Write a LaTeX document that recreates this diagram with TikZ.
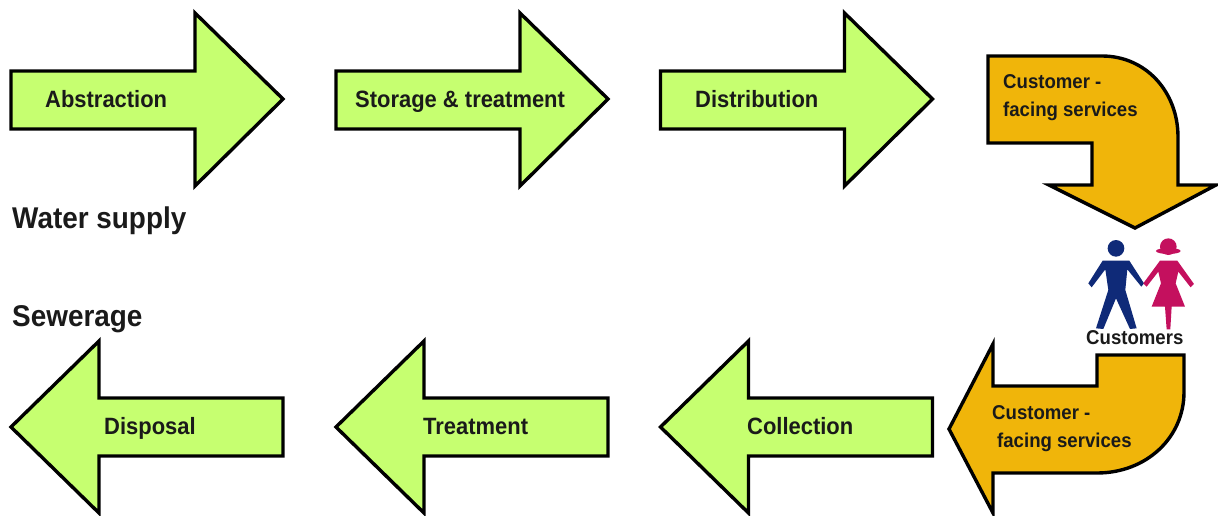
\documentclass[tikz,border=0pt]{standalone}
\usepackage{fontspec}
\setmainfont{Liberation Sans}
\newfontfamily\narrowbold[FakeStretch=0.93]{Liberation Sans Bold}
\definecolor{arrowgreen}{HTML}{C6FF70}
\definecolor{arroworange}{HTML}{F0B50A}
\definecolor{manblue}{HTML}{0F2A78}
\definecolor{womanred}{HTML}{C4105E}
\definecolor{inkdark}{HTML}{1A1A1A}
\tikzset{
  greenarrow/.style={draw=black,fill=arrowgreen,line width=3.4pt,miter limit=10},
  orangearrow/.style={draw=black,fill=arroworange,line width=3.4pt,miter limit=10},
  steplabel/.style={anchor=base west,inner sep=0pt,text=inkdark,font=\narrowbold\fontsize{23.6}{26}\selectfont},
  smalllabel/.style={anchor=base west,inner sep=0pt,text=inkdark,font=\narrowbold\fontsize{20}{22}\selectfont},
  titlelabel/.style={anchor=base west,inner sep=0pt,text=inkdark,font=\narrowbold\fontsize{30}{32}\selectfont},
  rightarrowshape/.pic={\path[greenarrow] (11,71)--(195,71)--(195,13)--(283,99)--(195,186)--(195,129)--(11,129)--cycle;},
  leftarrowshape/.pic={\path[greenarrow] (283,398)--(99,398)--(99,341)--(11,427)--(99,513)--(99,456)--(283,456)--cycle;}
}
\begin{document}
\begin{tikzpicture}[x=1pt,y=-1pt]
\useasboundingbox (0,0) rectangle (1218,515);
\fill[white] (0,0) rectangle (1218,515);
\foreach \dx in {0,325,649.5}{
  \pic at (\dx,0) {rightarrowshape};
  \pic at (\dx,0) {leftarrowshape};
}
% upper bent arrow
\path[orangearrow] (988,56)--(1102,56) .. controls (1146,56) and (1178,92) .. (1178,137)
  --(1178,185)--(1216,185)--(1135,228)--(1049,185)--(1092,185)--(1092,143)--(988,143)--cycle;
% lower bent arrow
\path[orangearrow] (1097,355)--(1184,355)--(1184,392) .. controls (1184,438) and (1146,473) .. (1097,473)
  --(993,473)--(993,513)--(949,429)--(993,344)--(993,386)--(1097,386)--cycle;
% people
\begin{scope}[shift={(940,230)},x=0.3333pt,y=-0.3333pt]
  \fill[manblue] (528,55) circle[radius=25];
  \fill[manblue] (488,92)--(568,92)--(612,160)--(604,170)--(562,118)--(556,180)--(590,295)--(570,297)--(528,205)--(490,297)--(468,295)--(505,180)--(496,118)--(455,172)--(445,160)--cycle;
  \fill[womanred] (685,50) circle[radius=25];
  \fill[womanred] (685,63) ellipse[x radius=37,y radius=9];
  \fill[womanred] (660,92)--(712,92)--(762,162)--(752,172)--(715,125)--(707,160)--(735,230)--(695,230)--(691,298)--(680,298)--(675,230)--(635,230)--(663,160)--(655,125)--(620,170)--(610,160)--cycle;
\end{scope}
% labels
\node[steplabel] (abstraction) at (45,107) {Abstraction};
\node[steplabel] (storage) at (355,107) {Storage \& treatment};
\node[steplabel] (distribution) at (695,107) {Distribution};
\node[steplabel] (disposal) at (104,434) {Disposal};
\node[steplabel] (treatment) at (423,434) {Treatment};
\node[steplabel] (collection) at (747,434) {Collection};
\node[smalllabel] (cfsa) at (1003,88) {Customer -};
\node[smalllabel] (cfsb) at (1003,116) {facing services};
\node[smalllabel] (cfsc) at (992,419) {Customer -};
\node[smalllabel] (cfsd) at (997,447) {facing services};
\node[smalllabel] (customers) at (1086,344) {Customers};
\node[titlelabel] (water) at (12,228) {Water supply};
\node[titlelabel] (sewerage) at (12,326) {Sewerage};
\end{tikzpicture}
\end{document}
